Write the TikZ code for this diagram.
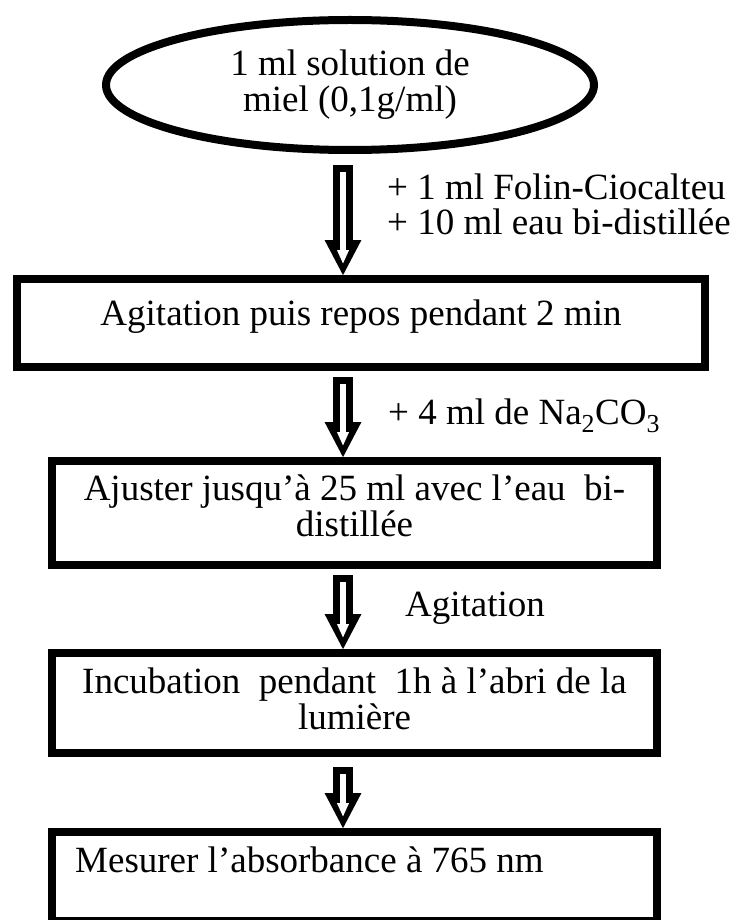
\documentclass[tikz,border=0pt]{standalone}
\usepackage{fontspec}
\setmainfont{Liberation Serif}
\usetikzlibrary{shapes.geometric,arrows.meta}
\begin{document}
\begin{tikzpicture}[x=1pt,y=-1pt,
  every node/.style={font=\fontsize{37}{36}\selectfont},
  frame/.style={draw, line width=8pt, rectangle, inner sep=0pt, outer sep=0pt},
  oval/.style={draw, line width=8pt, ellipse, inner sep=0pt, outer sep=0pt, align=center},
  txt/.style={inner sep=0pt, anchor=base, align=center},
  lbl/.style={inner sep=0pt, anchor=base west, align=left},
  outerarrow/.style={line width=20pt, -{Triangle[width=34pt,length=36pt]}},
  innerarrow/.style={draw=white, line width=6pt, -{Triangle[width=11pt,length=14pt]}}
]
\useasboundingbox (0,0) rectangle (735,920);
\fill[white] (0,0) rectangle (735,920);

% ellipse
\node[oval, minimum width=488pt, minimum height=130pt] (e) at (350,85)
  {1 ml solution de\\miel (0,1g/ml)};

% boxes
\node[frame, minimum width=688pt, minimum height=88pt] (b1) at (361,323) {};
\node[frame, minimum width=605pt, minimum height=104pt] (b2) at (354.5,513) {};
\node[frame, minimum width=605pt, minimum height=100pt] (b3) at (354.5,703) {};
\node[frame, minimum width=605pt, minimum height=89pt] (b4) at (354.5,876.5) {};

% box texts
\node[txt] (t1) at (361,325) {Agitation puis repos pendant 2 min};
\node[txt] (t2a) at (354.5,500) {Ajuster jusqu’à 25 ml avec l’eau\ \ bi-};
\node[txt] (t2b) at (354.5,536) {distillée};
\node[txt] (t3a) at (354.5,693) {Incubation\ \ pendant\ \ 1h à l’abri de la};
\node[txt] (t3b) at (354.5,729) {lumière};
\node[lbl] (t4) at (75,872) {Mesurer l’absorbance à 765 nm};

% labels
\node[lbl] (l1) at (387,200) {+ 1 ml Folin-Ciocalteu};
\node[lbl] (l2) at (387,234) {+ 10 ml eau bi-distillée};
\node[lbl] (l3) at (388,424) {+ 4 ml de Na\textsubscript{2}CO\textsubscript{3}};
\node[lbl] (l4) at (405,616) {Agitation};

% coordinates for arrows
\coordinate (a1s) at (343,165); \coordinate (a1e) at (343,276);
\coordinate (a2s) at (343,377); \coordinate (a2e) at (343,458);
\coordinate (a3s) at (343,575); \coordinate (a3e) at (343,650);
\coordinate (a4s) at (343,767); \coordinate (a4e) at (343,829);

\foreach \s/\e in {a1s/a1e,a2s/a2e,a3s/a3e,a4s/a4e}{
  \draw[outerarrow] (\s) -- (\e);
  \draw[innerarrow, shorten <=7pt, shorten >=12pt] (\s) -- (\e);
}
\end{tikzpicture}
\end{document}
